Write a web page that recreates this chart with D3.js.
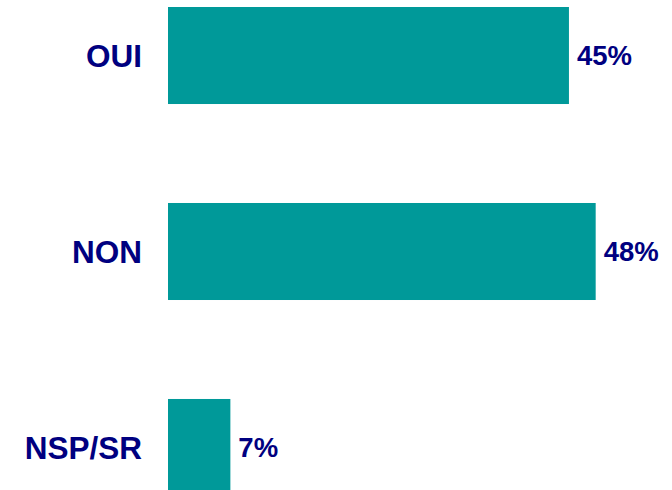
<!DOCTYPE html>
<html>
<head>
<meta charset="utf-8">
<script src="https://cdn.jsdelivr.net/npm/d3@7"></script>
<style>
  body { margin: 0; background: #fff; }
  svg { display: block; }
</style>
</head>
<body>
<svg id="chart"></svg>
<script>
const width = 672;
const height = 490;

const categories = ["OUI", "NON", "NSP/SR"];
const values = [45, 48, 7];
const valueLabels = ["45%", "48%", "7%"];

const svg = d3.select("#chart")
  .attr("width", width)
  .attr("height", height);

// 0..50% spans about 445px starting right of the labels
const x = d3.scaleLinear().domain([0, 50]).range([168, 613.5]);
const y = d3.scaleBand().domain(categories).range([7, 496]).paddingInner(0.505).paddingOuter(0);

svg.selectAll("rect.bar")
  .data(categories)
  .join("rect")
  .attr("class", "bar")
  .attr("x", x(0))
  .attr("y", d => y(d))
  .attr("width", (d, i) => x(values[i]) - x(0))
  .attr("height", y.bandwidth())
  .attr("fill", "#009999");

// category labels
svg.selectAll("text.cat")
  .data(categories)
  .join("text")
  .attr("class", "cat")
  .attr("x", 142)
  .attr("y", d => y(d) + y.bandwidth() / 2 + 11.3)
  .attr("text-anchor", "end")
  .attr("font-family", "Liberation Sans, Arial, sans-serif")
  .attr("font-weight", "bold")
  .attr("font-size", 31.5)
  .attr("fill", "#000080")
  .text(d => d);

// value labels
svg.selectAll("text.val")
  .data(categories)
  .join("text")
  .attr("class", "val")
  .attr("x", (d, i) => x(values[i]) + 8)
  .attr("y", d => y(d) + y.bandwidth() / 2 + 9.9)
  .attr("font-family", "Liberation Sans, Arial, sans-serif")
  .attr("font-weight", "bold")
  .attr("font-size", 27.5)
  .attr("fill", "#000080")
  .text((d, i) => valueLabels[i]);
</script>
</body>
</html>
